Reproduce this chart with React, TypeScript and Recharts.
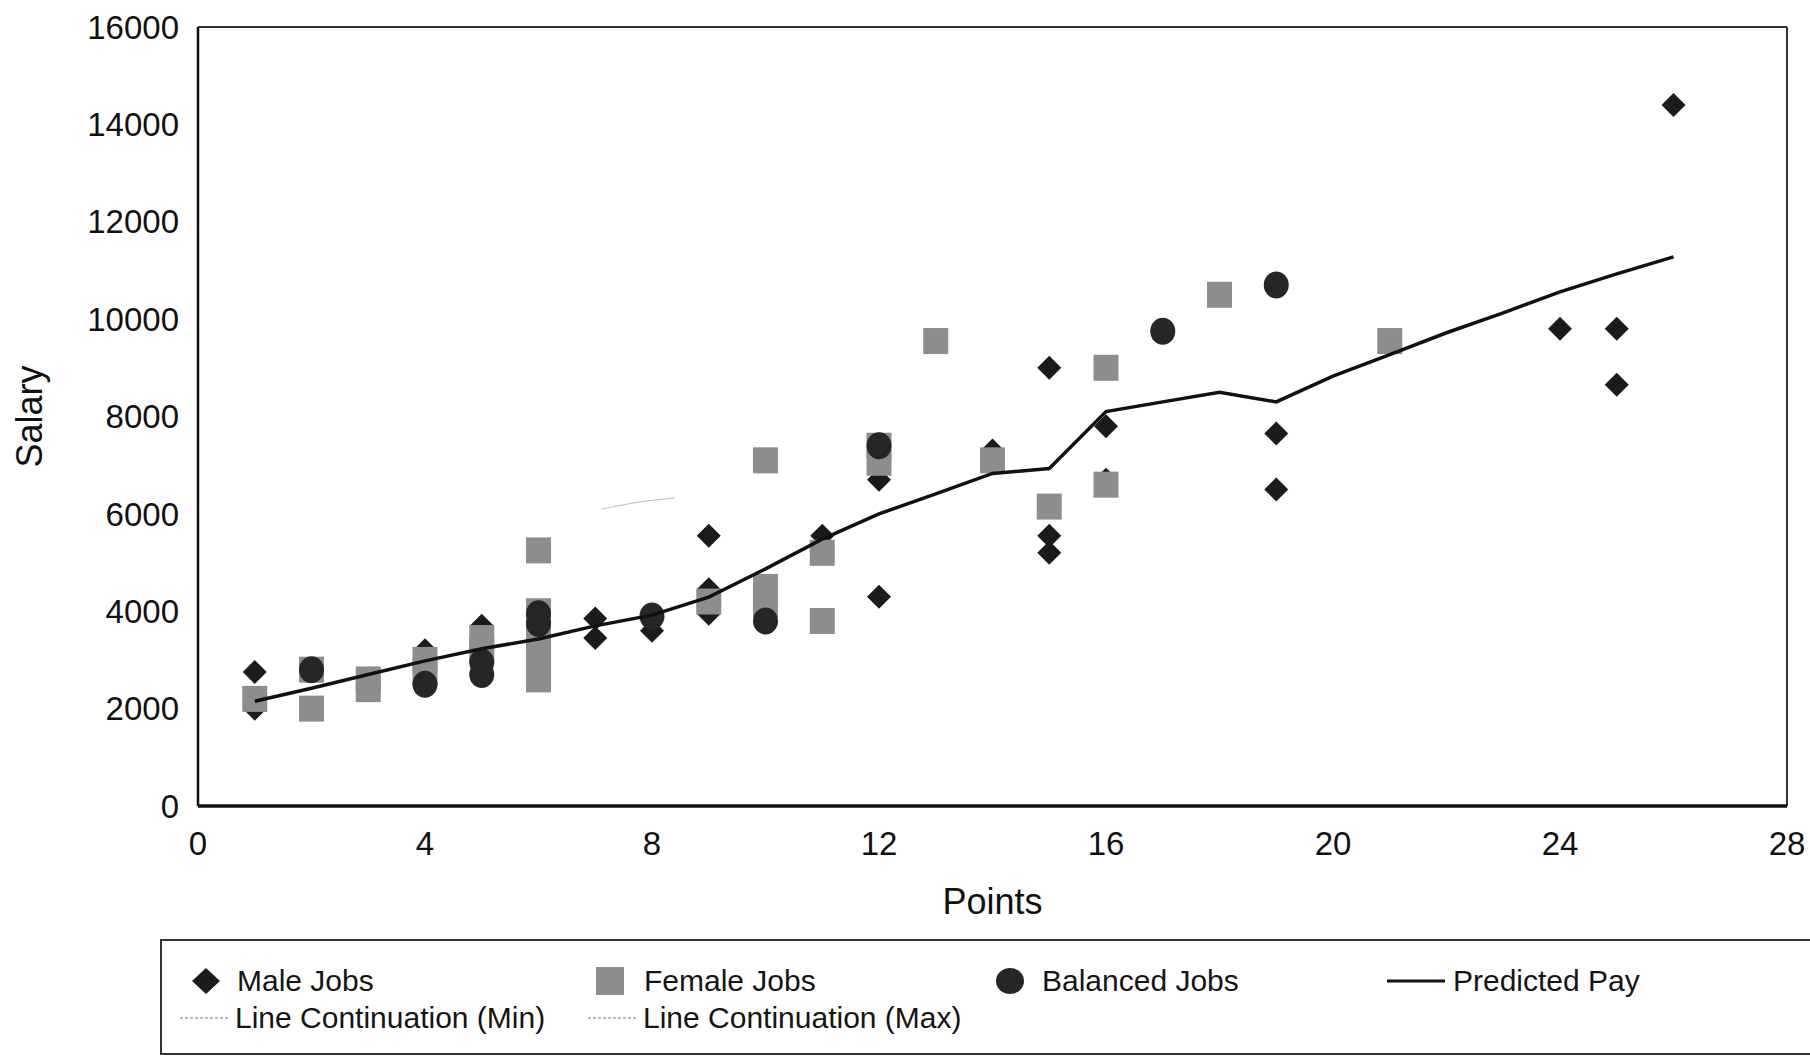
import { ScatterChart, Scatter, XAxis, YAxis, ReferenceLine, Legend, Label } from "recharts";

const FONT = '"Liberation Sans", Arial, Helvetica, sans-serif';

const xTicks = [0, 4, 8, 12, 16, 20, 24, 28];
const yTicks = [0, 2000, 4000, 6000, 8000, 10000, 12000, 14000, 16000];

const maleJobs = [
  { x: 1, y: 2750 }, { x: 1, y: 2000 }, { x: 4, y: 3200 }, { x: 5, y: 3700 },
  { x: 7, y: 3850 }, { x: 7, y: 3450 }, { x: 8, y: 3600 }, { x: 9, y: 5550 },
  { x: 9, y: 4450 }, { x: 9, y: 3950 }, { x: 11, y: 5550 }, { x: 12, y: 6700 },
  { x: 12, y: 4300 }, { x: 14, y: 7300 }, { x: 15, y: 9000 }, { x: 15, y: 5550 },
  { x: 15, y: 5200 }, { x: 16, y: 7800 }, { x: 16, y: 6700 }, { x: 19, y: 7650 },
  { x: 19, y: 6500 }, { x: 24, y: 9800 }, { x: 25, y: 9800 }, { x: 25, y: 8650 },
  { x: 26, y: 14400 },
];

const femaleJobs = [
  { x: 1, y: 2200 }, { x: 2, y: 2800 }, { x: 2, y: 2000 }, { x: 3, y: 2600 },
  { x: 3, y: 2400 }, { x: 4, y: 3000 }, { x: 4, y: 2750 }, { x: 5, y: 3450 },
  { x: 5, y: 3200 }, { x: 6, y: 5250 }, { x: 6, y: 4000 }, { x: 6, y: 3500 },
  { x: 6, y: 3000 }, { x: 6, y: 2600 }, { x: 9, y: 4200 }, { x: 10, y: 7100 },
  { x: 10, y: 4500 }, { x: 10, y: 4150 }, { x: 11, y: 5200 }, { x: 11, y: 3800 },
  { x: 12, y: 7400 }, { x: 12, y: 7050 }, { x: 13, y: 9550 }, { x: 14, y: 7100 },
  { x: 15, y: 6150 }, { x: 16, y: 9000 }, { x: 16, y: 6600 }, { x: 18, y: 10500 },
  { x: 21, y: 9550 },
];

const balancedJobs = [
  { x: 2, y: 2800 }, { x: 4, y: 2500 }, { x: 5, y: 2950 }, { x: 5, y: 2700 },
  { x: 6, y: 3950 }, { x: 6, y: 3750 }, { x: 8, y: 3900 }, { x: 10, y: 3800 },
  { x: 12, y: 7400 }, { x: 17, y: 9750 }, { x: 19, y: 10700 },
];

const predictedPay = [
  { x: 1, y: 2150 }, { x: 2, y: 2420 }, { x: 3, y: 2700 }, { x: 4, y: 2980 },
  { x: 5, y: 3230 }, { x: 6, y: 3430 }, { x: 7, y: 3700 }, { x: 8, y: 3920 },
  { x: 9, y: 4290 }, { x: 10, y: 4870 }, { x: 11, y: 5480 }, { x: 12, y: 6000 },
  { x: 13, y: 6410 }, { x: 14, y: 6830 }, { x: 15, y: 6930 }, { x: 16, y: 8100 },
  { x: 17, y: 8300 }, { x: 18, y: 8500 }, { x: 19, y: 8300 }, { x: 20, y: 8830 },
  { x: 21, y: 9270 }, { x: 22, y: 9720 }, { x: 23, y: 10130 }, { x: 24, y: 10560 },
  { x: 25, y: 10930 }, { x: 26, y: 11280 },
];

// faint stroke near x 7-8 in the scan
const lineContinuationMax = [
  { x: 7.1, y: 6100 }, { x: 7.8, y: 6250 }, { x: 8.4, y: 6330 },
];

function DiamondShape(props: any) {
  const { cx, cy } = props;
  const r = 12;
  return <path d={`M${cx},${cy - r}L${cx + r},${cy}L${cx},${cy + r}L${cx - r},${cy}Z`} fill="#1b1b1b" />;
}

function SquareShape(props: any) {
  const { cx, cy } = props;
  return <rect x={cx - 12.5} y={cy - 13} width={25} height={26} fill="#8d8d8d" />;
}

function CircleShape(props: any) {
  const { cx, cy } = props;
  return <ellipse cx={cx} cy={cy} rx={12.5} ry={13.5} fill="#262626" />;
}

function NoShape() {
  return <g />;
}

function LegendItem({ left, top, icon, label }: { left: number; top: number; icon: any; label: string }) {
  return (
    <div style={{ position: "absolute", left, top: top - 17, height: 34, display: "flex", alignItems: "center", whiteSpace: "nowrap" }}>
      {icon}
      <span style={{ lineHeight: "34px" }}>{label}</span>
    </div>
  );
}

function LegendBox() {
  const dash = (
    <svg width={52} height={10} style={{ marginRight: 3 }}>
      <line x1={0} y1={5} x2={50} y2={5} stroke="#777" strokeWidth={1.2} strokeDasharray="3 2" />
    </svg>
  );
  return (
    <div
      style={{
        position: "relative",
        width: 1650,
        height: 116,
        boxSizing: "border-box",
        borderTop: "2px solid #333",
        borderLeft: "2px solid #333",
        borderBottom: "2px solid #333",
        fontFamily: FONT,
        fontSize: 30,
        color: "#151515",
      }}
    >
      <LegendItem
        left={30}
        top={40}
        label="Male Jobs"
        icon={
          <svg width={45} height={30}>
            <path d="M14,2L28,15L14,28L0,15Z" fill="#1b1b1b" />
          </svg>
        }
      />
      <LegendItem
        left={434}
        top={40}
        label="Female Jobs"
        icon={
          <svg width={48} height={30}>
            <rect x={0} y={1} width={28} height={28} fill="#8d8d8d" />
          </svg>
        }
      />
      <LegendItem
        left={834}
        top={40}
        label="Balanced Jobs"
        icon={
          <svg width={46} height={30}>
            <ellipse cx={14} cy={15} rx={14} ry={13} fill="#262626" />
          </svg>
        }
      />
      <LegendItem
        left={1225}
        top={40}
        label="Predicted Pay"
        icon={
          <svg width={66} height={10}>
            <line x1={0} y1={5} x2={58} y2={5} stroke="#111" strokeWidth={3} />
          </svg>
        }
      />
      <LegendItem left={18} top={77} label="Line Continuation (Min)" icon={dash} />
      <LegendItem left={426} top={77} label="Line Continuation (Max)" icon={dash} />
    </div>
  );
}

export default function App() {
  const tickStyle = { fontSize: 33, fill: "#111", fontFamily: FONT };
  return (
    <div style={{ width: 1810, height: 1057, background: "#fff", overflow: "hidden" }}>
      <style>{"body{margin:0;overflow:hidden;}"}</style>
      <ScatterChart width={1810} height={1057} margin={{ top: 27, right: 23, bottom: 0, left: 0 }}>
        <XAxis
          type="number"
          dataKey="x"
          domain={[0, 28]}
          ticks={xTicks}
          height={251}
          tickSize={0}
          tickMargin={26}
          tickLine={false}
          axisLine={{ stroke: "#111", strokeWidth: 3.5 }}
          tick={tickStyle}
          interval={0}
        >
          <Label value="Points" position="insideTop" offset={82} style={{ fontSize: 36, fill: "#111", fontFamily: FONT }} />
        </XAxis>
        <YAxis
          type="number"
          dataKey="y"
          domain={[0, 16000]}
          ticks={yTicks}
          width={198}
          tickSize={0}
          tickMargin={19}
          tickLine={false}
          axisLine={{ stroke: "#111", strokeWidth: 2.5 }}
          tick={tickStyle}
          interval={0}
        >
          <Label
            value="Salary"
            angle={-90}
            position="insideLeft"
            offset={29}
            style={{ fontSize: 36, fill: "#111", fontFamily: FONT, textAnchor: "middle" }}
          />
        </YAxis>
        <ReferenceLine y={16000} stroke="#333" strokeWidth={2} />
        <ReferenceLine x={28} stroke="#333" strokeWidth={2} />
        <Scatter name="Line Continuation (Max)" data={lineContinuationMax} shape={NoShape} line={{ stroke: "#c4c4c4", strokeWidth: 1.2 }} lineType="joint" isAnimationActive={false} legendType="none" />
        <Scatter name="Male Jobs" data={maleJobs} shape={DiamondShape} isAnimationActive={false} legendType="none" />
        <Scatter name="Female Jobs" data={femaleJobs} shape={SquareShape} isAnimationActive={false} legendType="none" />
        <Scatter name="Balanced Jobs" data={balancedJobs} shape={CircleShape} isAnimationActive={false} legendType="none" />
        <Scatter name="Predicted Pay" data={predictedPay} shape={NoShape} line={{ stroke: "#111", strokeWidth: 3.5 }} lineType="joint" isAnimationActive={false} legendType="none" />
        <Legend
          layout="horizontal"
          verticalAlign="middle"
          align="center"
          wrapperStyle={{ left: 160, top: 939, width: 1650, height: 116 }}
          content={() => <LegendBox />}
        />
      </ScatterChart>
    </div>
  );
}
